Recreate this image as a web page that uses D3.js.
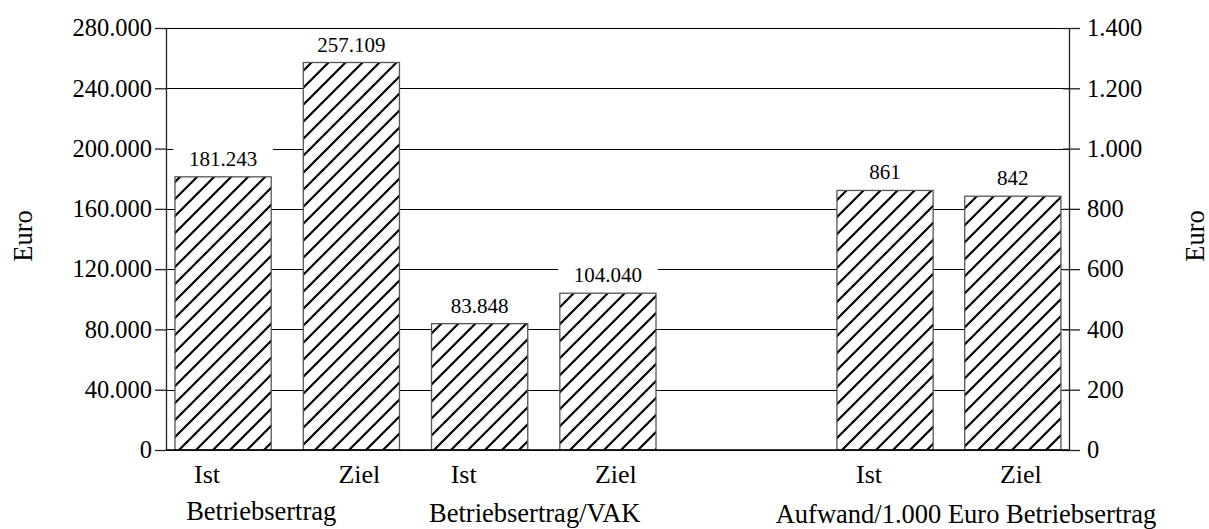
<!DOCTYPE html>
<html>
<head>
<meta charset="utf-8">
<script src="https://cdn.jsdelivr.net/npm/d3@7"></script>
<style>
  body { margin: 0; background: #fff; }
  text { font-family: "Liberation Serif", "Times New Roman", serif; fill: #000; }
</style>
</head>
<body>
<script>
// chart values
const groups = ["Betriebsertrag", "Betriebsertrag/VAK", "Aufwand/1.000 Euro Betriebsertrag"];
const kinds = ["Ist", "Ziel"];
const istValues = [181243, 83848, 861];
const zielValues = [257109, 104040, 842];
const groupAxis = ["left", "left", "right"];
const leftTicks = [0, 40000, 80000, 120000, 160000, 200000, 240000, 280000];
const rightTicks = [0, 200, 400, 600, 800, 1000, 1200, 1400];
const axisTitle = "Euro";

// layout
const W = 1209, H = 529;
const plot = { left: 166, right: 1069, top: 28, bottom: 450 };
const groupLabelNudge = [[-26, -2], [-9, 0], [17, 1]];

const de = d3.formatLocale({ decimal: ",", thousands: ".", grouping: [3], currency: ["", " €"] });
const fmt = de.format(",d");

const rows = groups.flatMap((g, i) => kinds.map((k, j) => ({
    group: g, gi: i, kind: k,
    value: j === 0 ? istValues[i] : zielValues[i],
    axis: groupAxis[i],
    key: g + "|" + k
})));

var svg = d3.select('body').append('svg')
    .attr('width', W)
    .attr('height', H);

var yLeft = d3.scaleLinear().domain([0, 280000]).range([plot.bottom, plot.top]);
var yRight = d3.scaleLinear().domain([0, 1400]).range([plot.bottom, plot.top]);

var xLeft = d3.scaleBand()
    .domain(rows.filter(d => d.axis == "left").map(d => d.key))
    .range([plot.left, 665])
    .paddingInner(0.25).paddingOuter(0.07);
var xRight = d3.scaleBand()
    .domain(rows.filter(d => d.axis == "right").map(d => d.key))
    .range([828, plot.right + 0.5])
    .paddingInner(0.25).paddingOuter(0.07);

const xOf = d => d.axis == "left" ? xLeft(d.key) : xRight(d.key);
const yOf = d => d.axis == "left" ? yLeft(d.value) : yRight(d.value);
const bw = xLeft.bandwidth();

// hatch pattern
var pat = svg.append('defs').append('pattern')
    .attr('id', 'hatch')
    .attr('patternUnits', 'userSpaceOnUse')
    .attr('width', 17).attr('height', 17);
pat.append('rect').attr('width', 17).attr('height', 17).attr('fill', '#fff');
pat.append('path')
    .attr('d', 'M-4,4 L4,-4 M0,17 L17,0 M13,21 L21,13')
    .attr('stroke', '#000')
    .attr('stroke-width', 2.2);

// gridlines
svg.append('g').selectAll('line')
    .data(leftTicks)
    .enter().append('line')
    .attr('x1', plot.left).attr('x2', plot.right)
    .attr('y1', d => Math.round(yLeft(d)) + 0.5)
    .attr('y2', d => Math.round(yLeft(d)) + 0.5)
    .attr('stroke', '#000')
    .attr('stroke-width', 1.2);

// bars
svg.append('g').selectAll('rect')
    .data(rows)
    .enter().append('rect')
    .attr('x', d => xOf(d))
    .attr('y', d => yOf(d))
    .attr('width', bw)
    .attr('height', d => plot.bottom - yOf(d))
    .attr('fill', 'url(#hatch)')
    .attr('stroke', '#555')
    .attr('stroke-width', 1.3);

// axes
var gl = svg.append('g')
    .attr('transform', `translate(${plot.left},0)`)
    .call(d3.axisLeft(yLeft).tickValues(leftTicks).tickFormat(fmt)
        .tickSize(11).tickSizeOuter(0).tickPadding(3));
var gr = svg.append('g')
    .attr('transform', `translate(${plot.right},0)`)
    .call(d3.axisRight(yRight).tickValues(rightTicks).tickFormat(fmt)
        .tickSize(11).tickSizeOuter(0).tickPadding(7));
gr.selectAll('.tick line').attr('x1', -6);
[gl, gr].forEach(g => {
    g.selectAll('path, line').attr('stroke', '#222').attr('stroke-width', 1.3);
    g.selectAll('text').attr('font-size', 24.5).attr('font-family', '"Liberation Serif", serif').attr('fill', '#000');
});

// baseline
svg.append('line')
    .attr('x1', plot.left).attr('x2', plot.right)
    .attr('y1', plot.bottom).attr('y2', plot.bottom)
    .attr('stroke', '#000').attr('stroke-width', 1.5);

// value labels with white box
var vl = svg.append('g').selectAll('g')
    .data(rows)
    .enter().append('g')
    .attr('transform', d => `translate(${xOf(d) + bw / 2},${yOf(d) - 11})`);
vl.append('rect')
    .attr('x', d => -fmt(d.value).length * 5.4 - 12)
    .attr('y', -20)
    .attr('width', d => fmt(d.value).length * 10.8 + 24)
    .attr('height', 25)
    .attr('fill', '#fff');
vl.append('text')
    .attr('text-anchor', 'middle')
    .attr('font-size', 21)
    .text(d => fmt(d.value));

// Ist / Ziel labels
svg.append('g').selectAll('text')
    .data(rows)
    .enter().append('text')
    .attr('x', d => xOf(d) + bw / 2 + (d.kind == "Ist" ? -16 : 8))
    .attr('y', 483)
    .attr('text-anchor', 'middle')
    .attr('font-size', 26)
    .text(d => d.kind);

// group labels
svg.append('g').selectAll('text')
    .data(groups)
    .enter().append('text')
    .attr('x', (g, i) => {
        var r = rows.filter(d => d.gi == i);
        return (xOf(r[0]) + xOf(r[1]) + bw) / 2 + groupLabelNudge[i][0];
    })
    .attr('y', (g, i) => 522 + groupLabelNudge[i][1])
    .attr('text-anchor', 'middle')
    .attr('font-size', 26.5)
    .text(g => g);

// axis titles
[[32, 236], [1204, 236]].forEach(p => {
    svg.append('text')
        .attr('transform', `translate(${p[0]},${p[1]}) rotate(-90)`)
        .attr('text-anchor', 'middle')
        .attr('font-size', 26.5)
        .text(axisTitle);
});
</script>
</body>
</html>
